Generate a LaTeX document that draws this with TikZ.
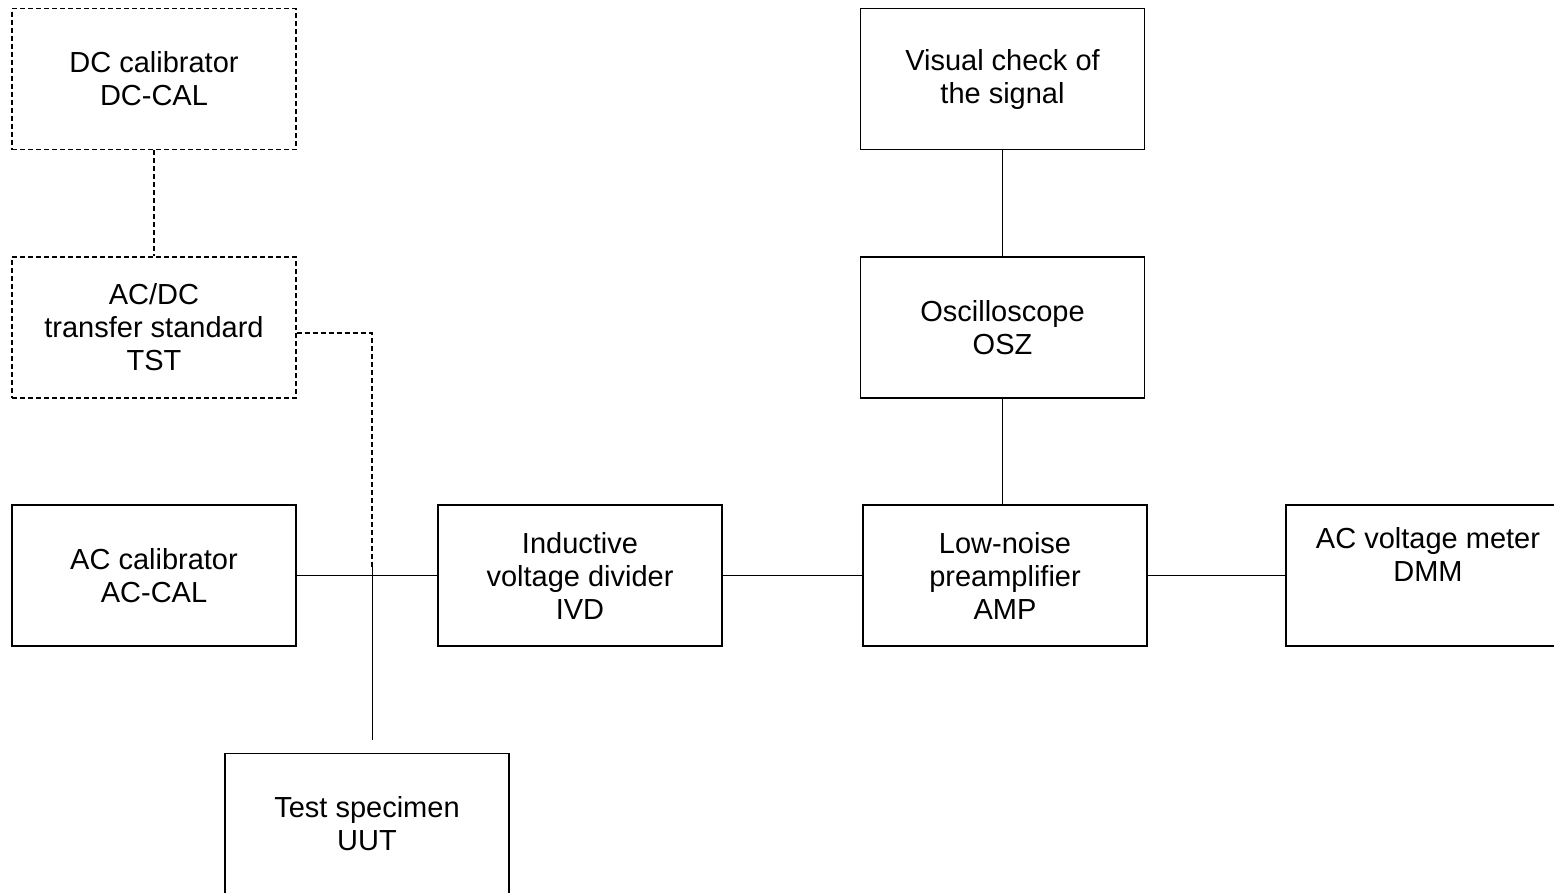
\documentclass[tikz,border=0pt]{standalone}
\usepackage{fontspec}
\setmainfont{Liberation Sans}
\begin{document}
\begin{tikzpicture}[x=1pt,y=-1pt,
  blk/.style={draw=black, line width=1.6pt, minimum width=284pt, minimum height=141pt,
    inner sep=0pt, align=center, font=\fontsize{29}{33}\selectfont},
  dblk/.style={blk, line width=1.4pt, dash pattern=on 5pt off 3pt},
  wire/.style={line width=1.5pt},
  dwire/.style={line width=1.4pt, dash pattern=on 5pt off 3pt},
  thin/.style={line width=1pt}]
\clip (0,0) rectangle (1554,892);
\fill[white] (0,0) rectangle (1554,892);
\node[dblk] (dccal) at (154,79) {DC calibrator\\DC-CAL};
\node[dblk] (tst) at (154,327.5) {AC/DC\\transfer standard\\TST};
\node[blk] (accal) at (154,575.5) {AC calibrator\\AC-CAL};
\node[blk] (ivd) at (580,575.5) {Inductive\\voltage divider\\IVD};
\node[blk] (amp) at (1005,575.5) {Low-noise\\preamplifier\\AMP};
\node[blk] (dmm) at (1428,575.5) {AC voltage meter\\DMM\\\strut};
\node[blk] (visual) at (1002.5,79) {Visual check of\\the signal};
\node[blk] (osz) at (1002.5,327.5) {Oscilloscope\\OSZ};
\node[blk] (uut) at (367,824) {Test specimen\\UUT};
\coordinate (j1) at (372,333);
\coordinate (j2) at (372,568);
\coordinate (j3) at (372,562);
\coordinate (j4) at (372,740);
\draw[dwire] (dccal.south) -- (tst.north);
\draw[dwire] (tst.east |- j1) -- (j1) -- (j2);
\draw[thin] (j3) -- (j4);
\draw[wire] (accal.east) -- (ivd.west);
\draw[wire] (ivd.east) -- (amp.west);
\draw[wire] (amp.east) -- (dmm.west);
\draw[wire] (visual.south) -- (osz.north);
\draw[wire] (osz.south) -- (osz.south |- amp.north);
\end{tikzpicture}
\end{document}
